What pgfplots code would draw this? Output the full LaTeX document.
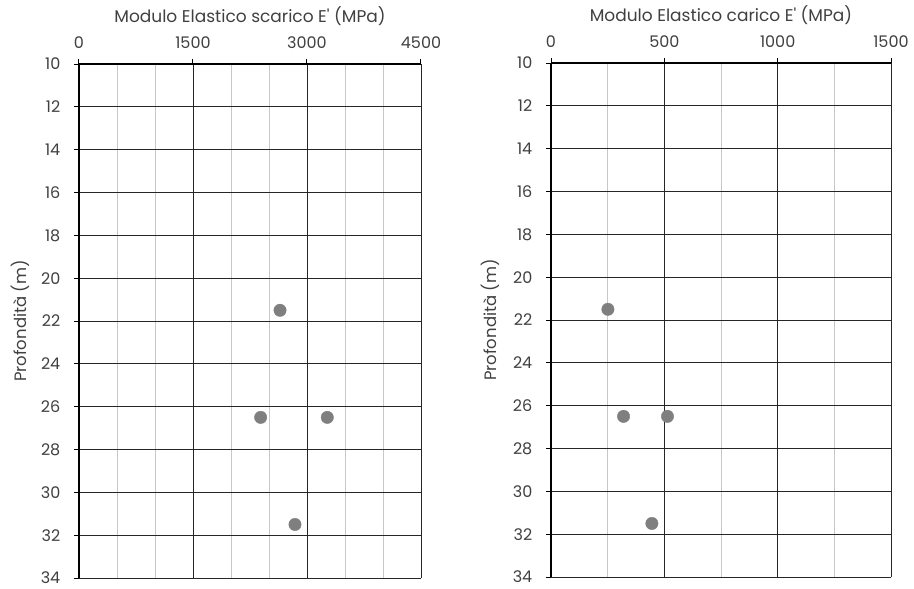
\documentclass[border=0pt]{standalone}
\usepackage{fontspec}
\setmainfont{Poppins}
\usepackage{pgfplots}
\pgfplotsset{compat=1.18}
\definecolor{txt}{HTML}{404040}
\definecolor{mgrid}{HTML}{C8C8C8}
\definecolor{Mgrid}{HTML}{262626}
\definecolor{ptc}{HTML}{7F7F7F}
\pgfplotsset{
  common/.style={
    scale only axis, width=#1, height=514pt,
    y dir=reverse, ymin=10, ymax=34, ytick={10,12,...,34},
    axis x line=top, axis y line=left,
    axis line style={-, black, line width=1.2pt},
    tick align=outside, major tick length=5pt,
    tick style={black, line width=1pt},
    minor tick length=0pt,
    grid=both,
    major grid style={Mgrid, line width=0.8pt},
    minor grid style={mgrid, line width=0.8pt},
    /pgf/number format/assume math mode=true,
    /pgf/number format/1000 sep={},
    tick label style={font=\fontsize{16}{18}\selectfont, text=txt, inner sep=0.5pt},
    label style={font=\fontsize{16.5}{19}\selectfont, text=txt},
    xticklabel style={yshift=9.5pt},
    yticklabel style={xshift=-13pt},
    clip=false,
  },
  pts/.style={only marks, mark=*, mark size=6.2pt, draw=ptc, fill=ptc, mark options={draw=ptc, fill=ptc}},
}
\begin{document}
\begin{tikzpicture}[x=1pt,y=1pt]
\path[use as bounding box] (0,0) rectangle (914,589);
\begin{axis}[common=342pt, at={(79pt,11pt)}, anchor=south west,
  xmin=0, xmax=4500, xtick={0,1500,3000,4500},
  minor xtick={500,1000,2000,2500,3500,4000},
  xlabel={Modulo Elastico scarico E\textquotesingle\ (MPa)},
  xlabel style={at={(axis description cs:0.5,1.093)}, anchor=center, font=\fontsize{17}{19}\selectfont},
  ylabel={Profondità (m)},
  ylabel style={at={(axis description cs:-0.172,0.5)}, anchor=center},
]
\addplot[pts] coordinates {(2645,21.5) (2390,26.5) (3267,26.5) (2842,31.5)};
\end{axis}
\begin{axis}[common=340pt, at={(551pt,12pt)}, anchor=south west,
  xmin=0, xmax=1500, xtick={0,500,1000,1500},
  minor xtick={250,750,1250},
  xlabel={Modulo Elastico carico E\textquotesingle\ (MPa)},
  xlabel style={at={(axis description cs:0.5,1.093)}, anchor=center, font=\fontsize{17}{19}\selectfont},
  ylabel={Profondità (m)},
  ylabel style={at={(axis description cs:-0.179,0.5)}, anchor=center},
]
\addplot[pts] coordinates {(251,21.5) (320,26.5) (514,26.5) (445,31.5)};
\end{axis}
\end{tikzpicture}
\end{document}
